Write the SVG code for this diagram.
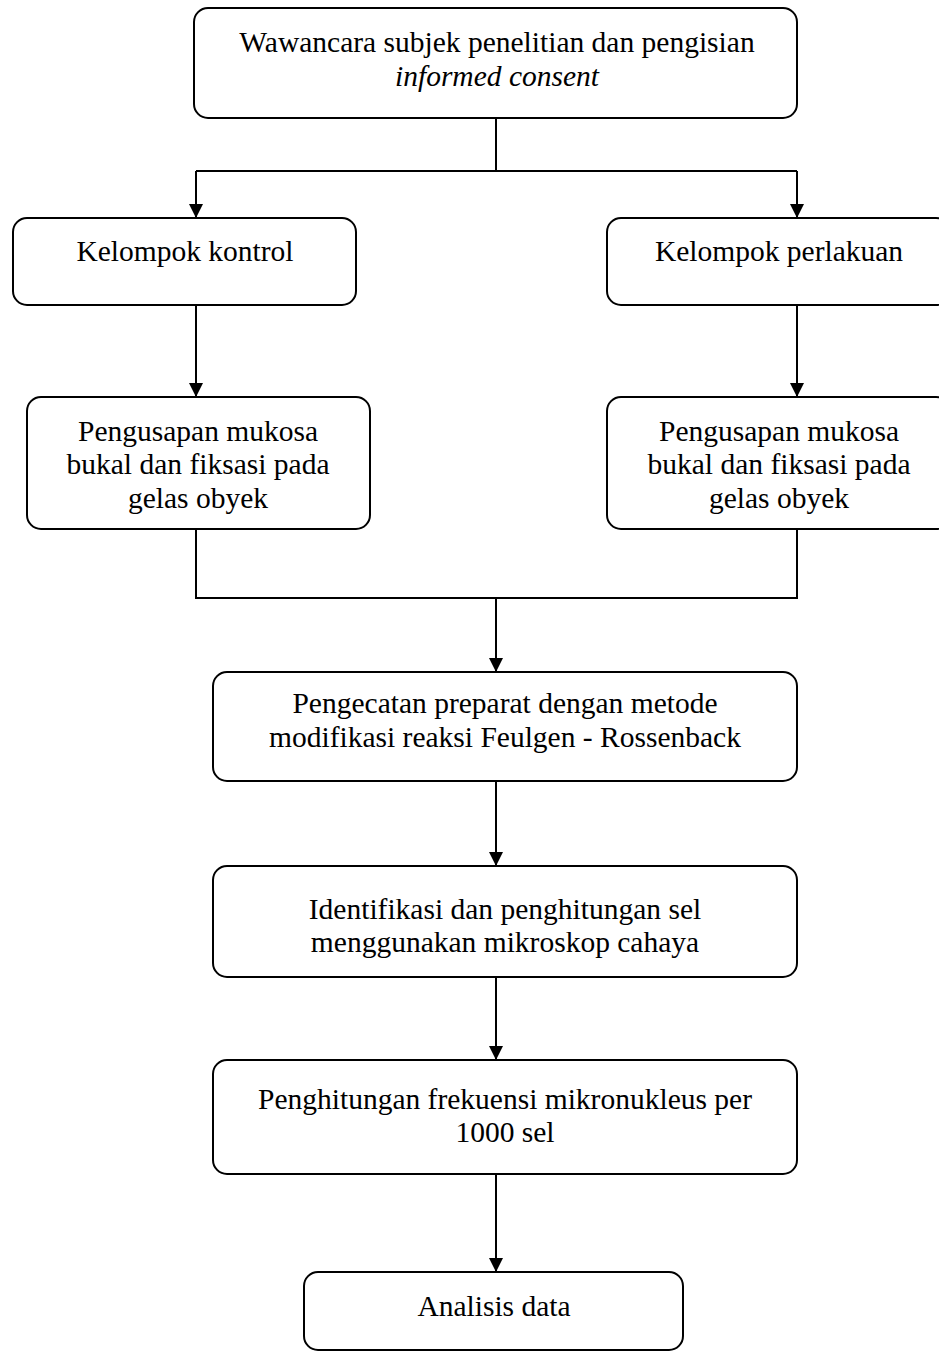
<svg xmlns="http://www.w3.org/2000/svg" width="939" height="1352" viewBox="0 0 939 1352">
<style>
.box{fill:#fff;stroke:#000;stroke-width:2}
.t{font-family:"Liberation Serif","Times New Roman",serif;font-size:29.5px;fill:#000;text-anchor:middle}
.it{font-style:italic}
.c{fill:none;stroke:#000;stroke-width:2}
</style>
<defs>
<marker id="ah" markerUnits="userSpaceOnUse" markerWidth="14" markerHeight="15" refX="14" refY="7" orient="auto" viewBox="0 0 14 14">
<path d="M0,0 L14,7 L0,14 Z" fill="#000"/>
</marker>
</defs>
<rect width="939" height="1352" fill="#fff"/>
<g id="connectors">
<path class="c" d="M496,118 V171 M196,171 H797"/>
<path class="c" d="M196,171 V218" marker-end="url(#ah)"/>
<path class="c" d="M797,171 V218" marker-end="url(#ah)"/>
<path class="c" d="M196,305 V397" marker-end="url(#ah)"/>
<path class="c" d="M797,305 V397" marker-end="url(#ah)"/>
<path class="c" d="M196,529 V598 H797 V529"/>
<path class="c" d="M496,598 V672" marker-end="url(#ah)"/>
<path class="c" d="M496,781 V866" marker-end="url(#ah)"/>
<path class="c" d="M496,977 V1060" marker-end="url(#ah)"/>
<path class="c" d="M496,1174 V1272" marker-end="url(#ah)"/>
</g>
<g id="n1">
<rect class="box" x="194" y="8" width="603" height="110" rx="14"/>
<text class="t" x="497" y="52">Wawancara subjek penelitian dan pengisian</text>
<text class="t it" x="497" y="86">informed consent</text>
</g>
<g id="n2">
<rect class="box" x="13" y="218" width="343" height="87" rx="14"/>
<text class="t" x="185" y="261">Kelompok kontrol</text>
</g>
<g id="n3">
<rect class="box" x="607" y="218" width="343" height="87" rx="14"/>
<text class="t" x="779" y="261">Kelompok perlakuan</text>
</g>
<g id="n4">
<rect class="box" x="27" y="397" width="343" height="132" rx="14"/>
<text class="t" x="198" y="441">Pengusapan mukosa</text>
<text class="t" x="198" y="474">bukal dan fiksasi pada</text>
<text class="t" x="198" y="508">gelas obyek</text>
</g>
<g id="n5">
<rect class="box" x="607" y="397" width="343" height="132" rx="14"/>
<text class="t" x="779" y="441">Pengusapan mukosa</text>
<text class="t" x="779" y="474">bukal dan fiksasi pada</text>
<text class="t" x="779" y="508">gelas obyek</text>
</g>
<g id="n6">
<rect class="box" x="213" y="672" width="584" height="109" rx="14"/>
<text class="t" x="505" y="713">Pengecatan preparat dengan metode</text>
<text class="t" x="505" y="747">modifikasi reaksi Feulgen - Rossenback</text>
</g>
<g id="n7">
<rect class="box" x="213" y="866" width="584" height="111" rx="14"/>
<text class="t" x="505" y="919">Identifikasi dan penghitungan sel</text>
<text class="t" x="505" y="952">menggunakan mikroskop cahaya</text>
</g>
<g id="n8">
<rect class="box" x="213" y="1060" width="584" height="114" rx="14"/>
<text class="t" x="505" y="1109">Penghitungan frekuensi mikronukleus per</text>
<text class="t" x="505" y="1142">1000 sel</text>
</g>
<g id="n9">
<rect class="box" x="304" y="1272" width="379" height="78" rx="14"/>
<text class="t" x="494" y="1316">Analisis data</text>
</g>
</svg>
